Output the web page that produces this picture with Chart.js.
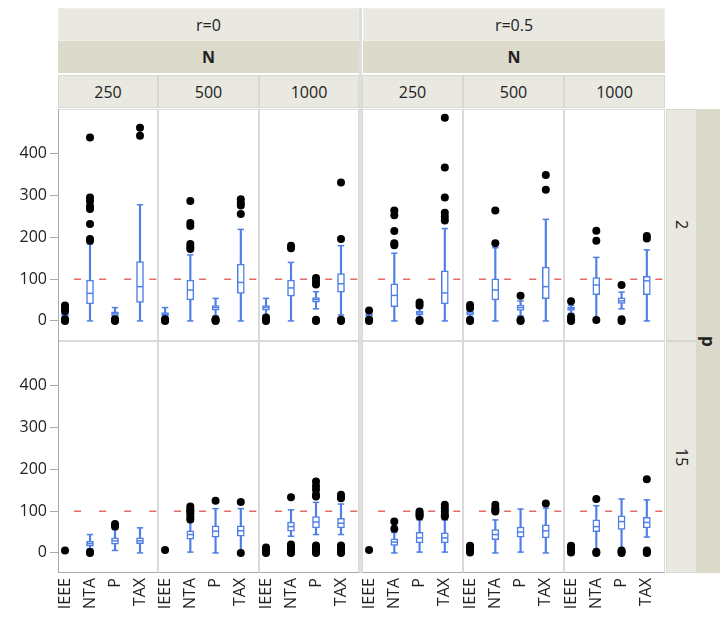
<!DOCTYPE html>
<html>
<head>
<meta charset="utf-8">
<script src="https://cdn.jsdelivr.net/npm/chart.js@4.4.1/dist/chart.umd.min.js"></script>
<style>
  body { margin: 0; background: #fff; font-family: 'Open Sans', sans-serif; }
  #wrap { position: relative; width: 720px; height: 619px; overflow: hidden; }
  .cell { position: absolute; display: flex; align-items: center; justify-content: center;
          box-sizing: border-box; font-size: 16px; color: #222; }
  .vert { writing-mode: vertical-rl; }
  canvas { position: absolute; }
</style>
</head>
<body>
<div id="wrap"></div>
<script>
const methods = ['IEEE', 'NTA', 'P', 'TAX']
const rLabels = ['r=0', 'r=0.5']
const nLabels = ['250', '500', '1000']
const pLabels = ['2', '15']
const yTicks = [0, 100, 200, 300, 400]
const refValue = 100

// box stats per panel: [low whisker, q1, median, q3, high whisker] for IEEE, NTA, P, TAX
// panels in order r=0 N=250, 500, 1000, r=0.5 N=250, 500, 1000
const boxesP2 = [
  [[8, 12, 15, 18, 22], [0, 41, 66, 98, 184], [5, 12, 17, 22, 32], [0, 44, 82, 142, 278]],
  [[6, 12, 16, 20, 32], [0, 50, 74, 98, 158], [12, 26, 32, 37, 54], [0, 66, 92, 136, 219]],
  [[14, 26, 32, 37, 54], [0, 59, 79, 98, 140], [29, 45, 51, 56, 70], [14, 69, 89, 113, 180]],
  [[8, 11, 14, 17, 20], [0, 34, 61, 89, 162], [8, 14, 19, 23, 30], [0, 41, 67, 120, 221]],
  [[8, 14, 19, 23, 28], [0, 50, 74, 101, 175], [12, 25, 32, 38, 48], [0, 53, 82, 129, 243]],
  [[18, 25, 29, 33, 37], [0, 63, 86, 104, 152], [29, 42, 48, 55, 69], [0, 63, 96, 107, 170]]
]
const outliersP2 = [
  [[0, 2, 4, 24, 30, 37], [192, 196, 232, 268, 275, 287, 295, 439], [0, 2, 4], [443, 462]],
  [[0, 2, 4], [172, 177, 184, 227, 234, 287], [0, 2, 4], [256, 276, 283, 291]],
  [[0, 4, 8], [174, 180], [0, 3, 87, 95, 103], [0, 3, 196, 331]],
  [[0, 3, 25], [181, 186, 215, 253, 264], [0, 2, 37, 44], [240, 249, 259, 295, 367, 486]],
  [[0, 3, 31, 38], [186, 264], [0, 3, 60], [314, 349]],
  [[0, 4, 10, 47], [2, 192, 216], [0, 4, 86], [197, 203]]
]
const boxesP15 = [
  [[4, 5, 6, 7, 8], [10, 16, 22, 28, 44], [6, 21, 29, 36, 56], [0, 22, 29, 36, 60]],
  [[5, 6, 7, 8, 9], [2, 33, 44, 53, 75], [0, 38, 52, 65, 106], [0, 40, 53, 65, 106]],
  [[4, 5, 6, 7, 8], [40, 52, 63, 74, 103], [44, 60, 74, 87, 121], [44, 60, 71, 83, 117]],
  [[4, 5, 6, 7, 8], [0, 18, 26, 34, 49], [2, 24, 36, 49, 79], [2, 24, 36, 48, 79]],
  [[4, 5, 6, 7, 8], [0, 32, 44, 56, 79], [2, 38, 50, 62, 105], [0, 36, 53, 67, 107]],
  [[4, 5, 6, 7, 8], [0, 51, 63, 79, 113], [4, 56, 75, 89, 129], [38, 60, 73, 85, 127]]
]
const outliersP15 = [
  [[6], [0, 2], [63, 69], []],
  [[7], [80, 87, 95, 100, 104, 111], [125], [0, 122]],
  [[0, 2, 6, 10, 13], [0, 2, 5, 8, 12, 16, 20, 133], [0, 3, 6, 10, 14, 18, 135, 139, 151, 160, 171], [0, 3, 6, 10, 14, 18, 131, 134, 139]],
  [[7], [58, 75], [87, 91, 95, 99], [87, 91, 99, 107, 115]],
  [[1, 5, 10, 14, 17], [99, 103, 107, 115], [], [118]],
  [[1, 5, 10, 14, 17], [0, 3, 129], [0, 3, 6], [0, 3, 6, 176]]
]

const BLUE = '#4f7fe6'
const X_MIN = -0.28, X_MAX = 3.72
const Y_MIN = -48, Y_MAX = 507

// layout
const panelLeft = [58, 158, 259, 362, 463, 564]
const panelRight = [158, 259, 359, 463, 564, 665]
const rowTop = [109, 341]
const rowBottom = [341, 573]
const LIGHT = '#e9e8e1', DARK = '#dcdacb'

const wrap = document.getElementById('wrap')

function addCell(left, top, w, h, html, style) {
  const d = document.createElement('div')
  d.className = 'cell'
  d.style.cssText += `left:${left}px;top:${top}px;width:${w}px;height:${h}px;` + (style || '')
  d.innerHTML = html
  wrap.appendChild(d)
  return d
}

// header strips
rLabels.forEach((r, g) => {
  const l = g ? 363 : 58, rgt = g ? 665 : 359
  addCell(l, 8, rgt - l, 33, r, `background:${LIGHT};border:1px solid #efeee8;`)
  addCell(l, 41, rgt - l, 32, 'N', `background:${DARK};font-weight:bold;`)
})
for (let i = 0; i < 6; i++) {
  addCell(panelLeft[i], 75, panelRight[i] - panelLeft[i], 33, nLabels[i % 3],
    `background:${LIGHT};border:1px solid #d9d8cf;`)
}
// right strips
pLabels.forEach((p, row) => {
  addCell(666, rowTop[row], 31, rowBottom[row] - rowTop[row], `<span class="vert">${p}</span>`,
    `background:${LIGHT};border:1px solid #d9d8cf;`)
})
addCell(697, 109, 23, 464, '<span class="vert">p</span>', `background:${DARK};font-weight:bold;font-size:17px;`)
// group separator
addCell(359, 8, 3, 565, '', 'background:#dedede;')

const framePlugin = {
  id: 'frame',
  afterDraw(chart, args, opts) {
    const { ctx, chartArea: a } = chart
    const inner = '#d9d9d9', outer = '#a9a9a9'
    ctx.save()
    ctx.lineWidth = 1
    const line = (x1, y1, x2, y2, c) => {
      ctx.strokeStyle = c; ctx.beginPath(); ctx.moveTo(x1, y1); ctx.lineTo(x2, y2); ctx.stroke()
    }
    line(a.left, a.top + 0.5, a.right, a.top + 0.5, inner)
    line(a.right - 0.5, a.top, a.right - 0.5, a.bottom, inner)
    line(a.left, a.bottom - 0.5, a.right, a.bottom - 0.5, opts.outerBottom ? outer : inner)
    line(a.left + 0.5, a.top, a.left + 0.5, a.bottom, opts.outerLeft ? outer : inner)
    ctx.restore()
  }
}

function makePanel(row, col) {
  const boxes = (row ? boxesP15 : boxesP2)[col]
  const outs = (row ? outliersP15 : outliersP2)[col]
  const isLeft = col === 0, isBottom = row === 1
  const canvas = document.createElement('canvas')
  const left = isLeft ? 0 : panelLeft[col]
  const w = panelRight[col] - left
  const h = rowBottom[row] - rowTop[row] + (isBottom ? 46 : 0)
  canvas.width = w; canvas.height = h
  canvas.style.left = left + 'px'; canvas.style.top = rowTop[row] + 'px'
  canvas.style.width = w + 'px'; canvas.style.height = h + 'px'
  wrap.appendChild(canvas)

  const outlierPts = []
  outs.forEach((list, i) => list.forEach(v => outlierPts.push({ x: i, y: v })))
  const caps = []
  boxes.forEach((b, i) => { caps.push({ x: i, y: b[0] }); caps.push({ x: i, y: b[4] }) })

  new Chart(canvas, {
    type: 'bar',
    data: {
      datasets: [
        { type: 'scatter', data: outlierPts, pointRadius: 4, backgroundColor: '#000', borderWidth: 0 },
        { type: 'scatter', data: boxes.map((b, i) => ({ x: i, y: b[2] })), pointStyle: 'line',
          pointRadius: 3, borderColor: BLUE, borderWidth: 1.5 },
        { type: 'scatter', data: caps, pointStyle: 'line', pointRadius: 3.2, borderColor: BLUE, borderWidth: 1.5 },
        { data: boxes.map((b, i) => ({ x: i, y: [b[1], b[3]] })), backgroundColor: '#fff',
          borderColor: BLUE, borderWidth: 1.5, borderSkipped: false, barThickness: 7, grouped: false },
        { data: boxes.map((b, i) => ({ x: i, y: [b[0], b[4]] })), backgroundColor: BLUE,
          borderWidth: 0, barThickness: 1.5, grouped: false },
        { type: 'line', data: [{ x: X_MIN, y: refValue }, { x: X_MAX, y: refValue }],
          borderColor: '#e46a6a', borderWidth: 1.5, borderDash: [7, 18.1], borderDashOffset: 9.1,
          pointRadius: 0, fill: false }
      ]
    },
    options: {
      responsive: false,
      animation: false,
      events: [],
      layout: { padding: 0, autoPadding: false },
      plugins: {
        legend: { display: false },
        tooltip: { enabled: false },
        frame: { outerLeft: isLeft, outerBottom: isBottom }
      },
      scales: {
        x: {
          type: 'linear', min: X_MIN, max: X_MAX, offset: false,
          display: isBottom,
          afterBuildTicks: s => { s.ticks = methods.map((m, i) => ({ value: i })) },
          afterFit: s => {
            s.height = isBottom ? 46 : 0
            s.paddingLeft = 0; s.paddingRight = 0
          },
          grid: { drawOnChartArea: false, drawTicks: false },
          border: { display: false },
          ticks: {
            autoSkip: false, minRotation: 90, maxRotation: 90, padding: 5,
            color: '#222', font: { size: 16, family: 'Open Sans' },
            callback: v => methods[v]
          }
        },
        y: {
          type: 'linear', min: Y_MIN, max: Y_MAX,
          display: isLeft,
          afterBuildTicks: s => { s.ticks = yTicks.map(v => ({ value: v })) },
          afterFit: s => {
            s.width = isLeft ? 58 : 0
            s.paddingTop = 0; s.paddingBottom = 0
          },
          grid: { drawOnChartArea: false, drawTicks: true, tickLength: 8, color: '#a9a9a9' },
          border: { display: false },
          ticks: { padding: 3, color: '#222', font: { size: 16, family: 'Open Sans' } }
        }
      }
    },
    plugins: [framePlugin]
  })
}

for (let row = 0; row < 2; row++) {
  for (let col = 0; col < 6; col++) makePanel(row, col)
}
</script>
</body>
</html>
